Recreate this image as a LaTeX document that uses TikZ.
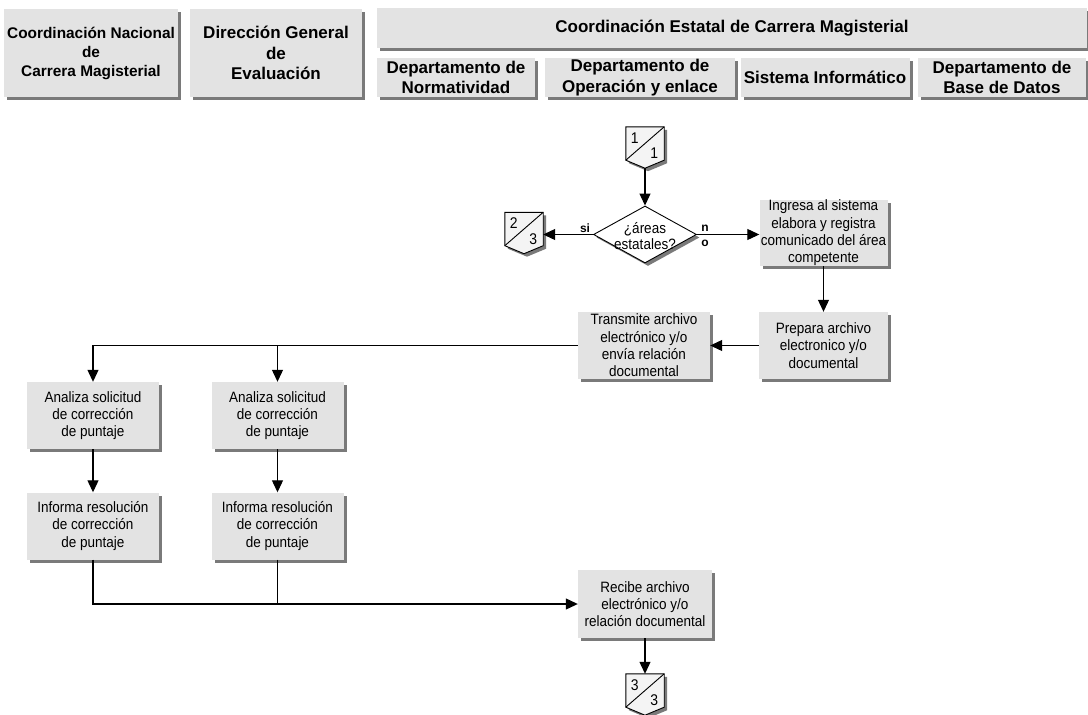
\documentclass[tikz,border=0pt]{standalone}
\usepackage{fontspec}
\setmainfont{Liberation Sans}
\newfontfamily\bodyfont{Liberation Sans}[FakeStretch=0.9]
\usetikzlibrary{arrows.meta,shapes.geometric,shadows,calc}

\definecolor{boxgray}{HTML}{E3E3E3}
\definecolor{shadowgray}{HTML}{7A7A7A}
\definecolor{connfill}{HTML}{F4F4F4}

% off-page connector: pentagon with a diagonal and two numbers
\newcommand\offpagemark[3]{%
  \draw[line width=0.9pt, fill=connfill, shade3]
    (#1.north west) -- (#1.north east) -- ([yshift=8pt]#1.south east)
    -- (#1.south) -- ([yshift=8pt]#1.south west) -- cycle;
  \draw[line width=0.9pt] (#1.north east) -- ([yshift=8pt]#1.south west);
  \node[numtext] (#1-top) at ([xshift=9pt,yshift=-11pt]#1.north west) {#2};
  \node[numtext] (#1-bot) at ([xshift=-10pt,yshift=15pt]#1.south east) {#3};
}

\begin{document}
\begin{tikzpicture}[x=1pt,y=-1pt,
  shade3/.style={drop shadow={shadow xshift=3pt,shadow yshift=-3pt,fill=shadowgray,opacity=1}},
  header/.style={shade3,fill=boxgray,inner sep=0pt,align=center},
  headfont/.style={font=\bfseries\fontsize{17}{20.5}\selectfont},
  proc/.style={shade3,fill=boxgray,inner sep=0pt,align=center,
    minimum width=132pt,minimum height=67pt,font=\bodyfont\fontsize{15}{17.3}\selectfont},
  offpage/.style={rectangle,draw=none,inner sep=0pt,minimum width=38pt,minimum height=41pt},
  numtext/.style={inner sep=0pt,font=\bodyfont\fontsize{15.5}{17}\selectfont},
  flag/.style={inner sep=0pt,font=\bfseries\fontsize{12}{13}\selectfont},
  link/.style={line width=1.1pt},
  arr/.style={link,-{Triangle[length=12pt,width=11pt]}},
]
\useasboundingbox (0,0) rectangle (1088,715);
\fill[white] (0,0) rectangle (1088,715);

% ---- column headers ----
\node[header,minimum width=174pt,minimum height=88pt,
      font=\bfseries\fontsize{15.4}{19}\selectfont] (hnac) at (91,53)
  {Coordinación Nacional\\de\\Carrera Magisterial};
\node[header,headfont,minimum width=172pt,minimum height=88pt] (hdge) at (276,53)
  {Dirección General\\de\\Evaluación};
\node[header,headfont,minimum width=710pt,minimum height=40pt] (hest) at (732,28)
  {Coordinación Estatal de Carrera Magisterial};
\node[header,headfont,minimum width=158pt,minimum height=39pt] (hnorm) at (456,77.5)
  {Departamento de\\Normatividad};
\node[header,headfont,minimum width=190pt,minimum height=39pt] (hoper) at (640,77.5)
  {Departamento de\\Operación y enlace};
\node[header,headfont,minimum width=169pt,minimum height=39pt] (hsis) at (825,77.5)
  {Sistema Informático};
\node[header,headfont,minimum width=168pt,minimum height=39pt] (hbase) at (1002,77.5)
  {Departamento de\\Base de Datos};

% ---- connectors and decision ----
\node[offpage] (c1) at (645,147.5) {};
\offpagemark{c1}{1}{1}
\node[diamond,draw,line width=0.9pt,fill=white,shade3,inner sep=0pt,
      minimum width=103pt,minimum height=57pt] (dec) at (645,234.5) {};
\node[inner sep=0pt,align=center,font=\bodyfont\fontsize{15}{16}\selectfont] (dectext) at (645,236)
  {¿áreas\\estatales?};
\node[offpage] (c2) at (524,233) {};
\offpagemark{c2}{2}{3}

% ---- process boxes ----
\node[proc,minimum width=128pt,minimum height=66pt] (ingresa) at (823.5,233)
  {Ingresa al sistema\\elabora y registra\\comunicado del área\\competente};
\node[proc,minimum width=129pt] (prepara) at (823.5,345.5)
  {Prepara archivo\\electronico y/o\\documental};
\node[proc] (transmite) at (644,345.5)
  {Transmite archivo\\electrónico y/o\\envía relación\\documental};
\node[proc] (an1) at (93,415.5) {Analiza solicitud\\de corrección\\de puntaje};
\node[proc] (inf1) at (93,526) {Informa resolución\\de corrección\\de puntaje};
\node[proc] (an2) at (277.5,415.5) {Analiza solicitud\\de corrección\\de puntaje};
\node[proc] (inf2) at (277.5,526) {Informa resolución\\de corrección\\de puntaje};
\node[proc,minimum width=134pt,minimum height=68pt] (recibe) at (645,604)
  {Recibe archivo\\electrónico y/o\\relación documental};
\node[offpage] (c3) at (645,694.5) {};
\offpagemark{c3}{3}{3}

% ---- flow lines ----
\draw[arr] (c1.south) -- (dec.north);
\draw[arr] (dec.west) -- (dec.west -| c2.east);
\draw[arr] (dec.east) -- (dec.east -| ingresa.west);
\node[flag] (si) at (585,228) {si};
\node[flag] (nolbl) at (705,228) {n};
\node[flag] (nolbl2) at (705,243) {o};
\draw[arr] (ingresa.south) -- (prepara.north);
\draw[arr] (prepara.west) -- (transmite.east);
\draw[arr] (transmite.west) -| (an1.north);
\draw[arr] (an2.north |- transmite.west) -- (an2.north);
\draw[arr] (an1.south) -- (inf1.north);
\draw[arr] (an2.south) -- (inf2.north);
\draw[arr] (inf1.south) |- (recibe.west);
\draw[link] (inf2.south) -- (inf2.south |- recibe.west);
\draw[arr] (recibe.south) -- (c3.north);
\end{tikzpicture}
\end{document}
